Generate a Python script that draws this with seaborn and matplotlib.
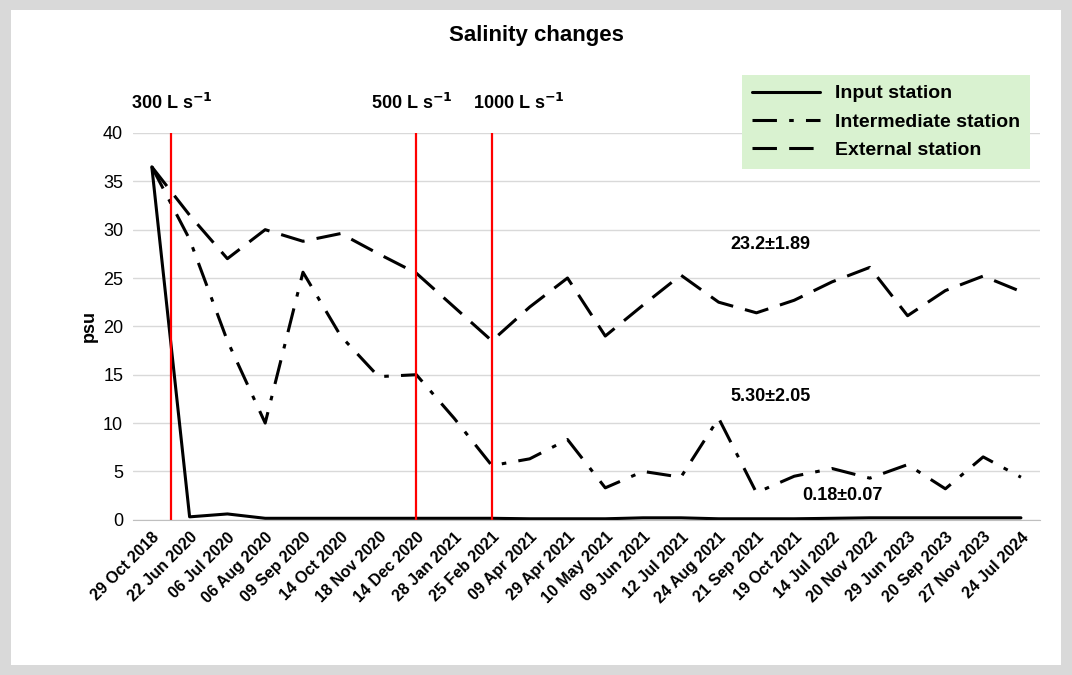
import matplotlib
matplotlib.use("Agg")
import matplotlib.pyplot as plt
import seaborn as sns
import pandas as pd

dates = ["29 Oct 2018","22 Jun 2020","06 Jul 2020","06 Aug 2020","09 Sep 2020","14 Oct 2020",
         "18 Nov 2020","14 Dec 2020","28 Jan 2021","25 Feb 2021","09 Apr 2021","29 Apr 2021",
         "10 May 2021","09 Jun 2021","12 Jul 2021","24 Aug 2021","21 Sep 2021","19 Oct 2021",
         "14 Jul 2022","20 Nov 2022","29 Jun 2023","20 Sep 2023","27 Nov 2023","24 Jul 2024"]
input_st = [36.5,0.3,0.6,0.15,0.15,0.15,0.15,0.15,0.15,0.15,0.1,0.1,0.1,0.2,0.2,0.1,0.1,0.1,0.15,0.2,0.2,0.2,0.2,0.2]
inter_st = [36.5,29.0,18.5,10.0,25.6,19.0,14.8,15.0,10.5,5.6,6.3,8.3,3.3,5.0,4.4,10.5,2.8,4.5,5.3,4.3,5.7,3.2,6.5,4.4]
extern_st = [36.5,31.5,27.0,30.0,28.8,29.6,27.5,25.5,22.0,18.5,22.0,25.0,19.0,22.2,25.3,22.5,21.4,22.7,24.6,26.1,21.1,23.7,25.2,23.6]
flow_pos = [0.5, 7, 9]
flow_labels = ["300 L s$^{-1}$", "500 L s$^{-1}$", "1000 L s$^{-1}$"]

sns.set_style("white")
plt.rcParams['font.family'] = ['Liberation Sans', 'DejaVu Sans']
plt.rcParams['mathtext.default'] = 'bf'
plt.rcParams['text.color'] = 'black'
plt.rcParams['ytick.color'] = 'black'
plt.rcParams['xtick.color'] = 'black'
plt.rcParams['axes.labelcolor'] = 'black'
fig = plt.figure(figsize=(10.72, 6.75), dpi=100, facecolor="#d9d9d9")
fig.patches.append(plt.Rectangle((0.01, 0.015), 0.98, 0.97, transform=fig.transFigure,
                                 facecolor="white", edgecolor="none", zorder=-1))
ax = fig.add_axes([0.124, 0.23, 0.846, 0.573])
x = list(range(len(dates)))
df = pd.DataFrame({"x": x, "inp": input_st, "int": inter_st, "ext": extern_st})
sns.lineplot(data=df, x="x", y="inp", ax=ax, color="black", lw=2.2, label="Input station")
sns.lineplot(data=df, x="x", y="int", ax=ax, color="black", lw=2.2, dashes=(8, 4, 1.5, 4),
             label="Intermediate station")
sns.lineplot(data=df, x="x", y="ext", ax=ax, color="black", lw=2.2, dashes=(8, 4),
             label="External station")
for p in flow_pos:
    ax.axvline(p, color="red", lw=1.6)
ax.text(-0.55, 42.5, flow_labels[0], fontsize=13, fontweight="bold")
ax.text(5.8, 42.5, flow_labels[1], fontsize=13, fontweight="bold")
ax.text(8.5, 42.5, flow_labels[2], fontsize=13, fontweight="bold")
ax.text(15.3, 28.0, "23.2±1.89", fontsize=13, fontweight="bold")
ax.text(15.3, 12.3, "5.30±2.05", fontsize=13, fontweight="bold")
ax.text(17.2, 2.0, "0.18±0.07", fontsize=13, fontweight="bold")
ax.set_xlim(-0.5, len(dates) - 0.5)
ax.set_ylim(0, 40)
ax.set_yticks(range(0, 41, 5))
ax.yaxis.grid(True, color="#d9d9d9", lw=1)
ax.set_xticks(x)
ax.set_xticklabels(dates, rotation=45, ha="right", rotation_mode="anchor", fontsize=11.5, fontweight="bold")
ax.tick_params(axis="y", labelsize=13)
ax.set_xlabel("")
ax.set_ylabel("psu", fontsize=13, fontweight="bold")
for s in ["top", "right", "left"]:
    ax.spines[s].set_visible(False)
ax.spines["bottom"].set_color("#bfbfbf")
fig.text(0.5, 0.94, "Salinity changes", ha="center", fontsize=16, fontweight="bold")
leg = ax.legend(loc="upper right", bbox_to_anchor=(1.0, 1.175), frameon=True, fontsize=14,
                handlelength=3.5, fancybox=False, borderpad=0.5, labelspacing=0.55)
leg.get_frame().set_facecolor("#d9f2d0")
leg.get_frame().set_edgecolor("none")
leg.get_frame().set_alpha(1)
for t in leg.get_texts():
    t.set_fontweight("bold")
fig.savefig("out.png", dpi=100, facecolor=fig.get_facecolor())
